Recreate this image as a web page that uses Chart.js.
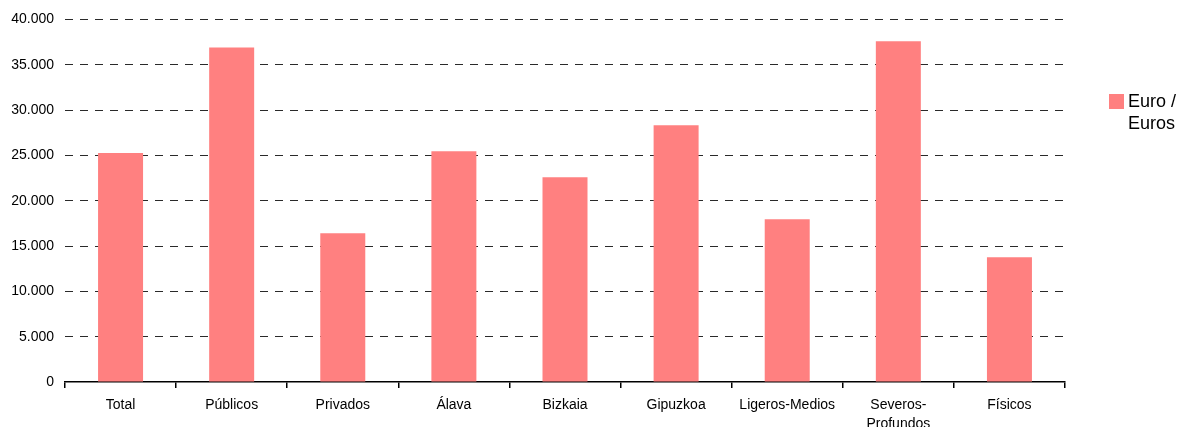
<!DOCTYPE html>
<html>
<head>
<meta charset="utf-8">
<script src="https://cdn.jsdelivr.net/npm/chart.js@4"></script>
<style>
  html, body { margin: 0; padding: 0; background: #fff; }
  #wrap { width: 1182px; height: 427px; }
</style>
</head>
<body>
<div id="wrap"><canvas id="grafico"></canvas></div>
<script>
const CATEGORIAS = ['Total', 'Públicos', 'Privados', 'Álava', 'Bizkaia', 'Gipuzkoa', 'Ligeros-Medios', ['Severos-', 'Profundos'], 'Físicos'];
const EUROS = [25250, 36900, 16420, 25450, 22600, 28320, 17960, 37580, 13770];
const SERIE = ['Euro /', 'Euros'];

const fuente = 'Liberation Sans, Arial, sans-serif';

// leyenda a mano, con el texto en dos líneas
const leyenda = {
    id: 'leyenda',
    afterDraw(chart) {
        const c = chart.ctx;
        c.save();
        c.fillStyle = '#FF8080';
        c.fillRect(1109, 94, 15, 15);
        c.fillStyle = '#000';
        c.font = '18px ' + fuente;
        c.textBaseline = 'middle';
        c.fillText(SERIE[0], 1128, 102);
        c.fillText(SERIE[1], 1128, 124);
        c.restore();
    }
};

const ctx = document.getElementById('grafico').getContext('2d');

new Chart(ctx, {
    type: 'bar',
    data: {
        labels: CATEGORIAS,
        datasets: [
            {
                label: SERIE.join(' '),
                data: EUROS,
                backgroundColor: '#FF8080',
                barPercentage: 0.81,
                categoryPercentage: 0.5
            }
        ]
    },
    options: {
        responsive: true,
        maintainAspectRatio: false,
        animation: false,
        layout: { padding: { top: 12, right: 117, left: 0, bottom: 0 } },
        plugins: {
            legend: { display: false },
            tooltip: { enabled: false }
        },
        scales: {
            x: {
                grid: {
                    offset: true,
                    drawOnChartArea: false,
                    tickLength: 6,
                    color: '#000',
                    lineWidth: 1.5
                },
                border: { color: '#000', width: 1.5 },
                ticks: {
                    color: '#000',
                    padding: 7,
                    maxRotation: 0,
                    autoSkip: false,
                    font: { family: fuente, size: 14, lineHeight: 1.4 }
                },
                afterFit: function(scale) { scale.height = 45; }
            },
            y: {
                min: 0,
                max: 40000,
                // border.dash también marca las líneas de la rejilla
                border: { display: false, dash: [8, 7] },
                grid: {
                    drawTicks: false,
                    color: function(c) { return c.tick.value === 0 ? 'rgba(0,0,0,0)' : '#2a2a2a'; },
                    lineWidth: 1
                },
                ticks: {
                    stepSize: 5000,
                    color: '#000',
                    padding: 11,
                    font: { family: fuente, size: 14 },
                    callback: function(v) {
                        return String(v).replace(/\B(?=(\d{3})+(?!\d))/g, '.');
                    }
                },
                afterFit: function(scale) { scale.width = 65; }
            }
        }
    },
    plugins: [leyenda]
});
</script>
</body>
</html>
